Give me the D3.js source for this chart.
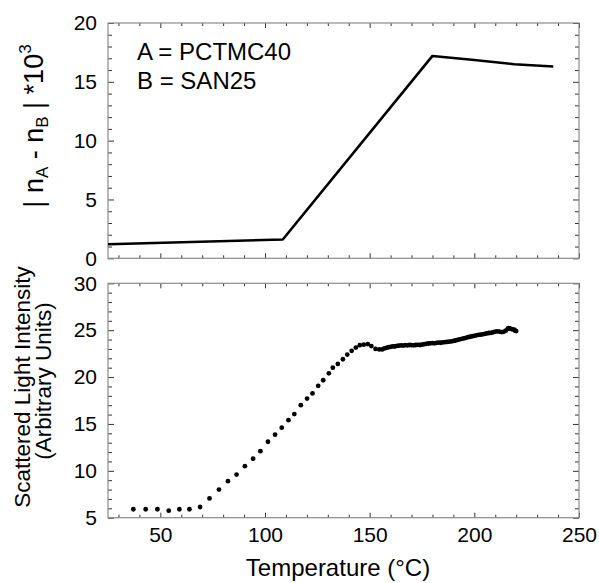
<!DOCTYPE html>
<html>
<head>
<meta charset="utf-8">
<script src="https://cdn.jsdelivr.net/npm/d3@7"></script>
<style>
  body { margin: 0; background: #fff; }
  svg { display: block; font-family: Arial, 'Liberation Sans', sans-serif; }
</style>
</head>
<body>
<svg id="chart" width="599" height="583"></svg>
<script>
/* ------------ Data ----------------*/
// top panel: refractive index difference
const diffTemp = [25, 108.5, 180, 200, 219, 237.7];
const diffValue = [1.2, 1.6, 17.2, 16.85, 16.5, 16.3];

// bottom panel: scattered light
const scatTemp = [
  37.1, 43.0, 48.6, 54.0, 59.1, 63.9, 69.0, 73.5, 78.0, 82.3,
  86.4, 90.4, 94.3, 97.8, 101.4, 104.8, 108.0, 111.2, 114.0, 117.1,
  120.1, 122.7, 125.4, 127.8, 130.5, 132.4, 134.8, 137.2, 139.3, 141.4,
  143.4, 145.3, 147.2, 149.1, 150.8, 152.8, 154.6, 156, 157, 158,
  159, 160, 161, 162, 163, 164, 165, 166, 167, 168,
  169, 170, 171, 172, 173, 174, 175, 176, 177, 178,
  179, 180, 181, 182, 183, 184, 185, 186, 187, 188,
  189, 190, 191, 192, 193, 194, 195, 196, 197, 198,
  199, 200, 201, 202, 203, 204, 205, 206, 207, 208,
  209, 210, 211, 212, 213, 214, 215, 216, 216.5, 217,
  218, 219, 219.5, 220
];
const scatValue = [
  5.9, 5.9, 5.9, 5.75, 5.9, 5.9, 6.14, 7.06, 8.0, 8.9,
  9.6, 10.5, 11.3, 12.1, 13.1, 13.85, 14.6, 15.4, 16.05, 17.0,
  17.7, 18.25, 19.06, 19.66, 20.4, 21.0, 21.4, 21.9, 22.4, 22.8,
  23.15, 23.4, 23.45, 23.52, 23.3, 23.0, 22.95, 22.95, 23.05, 23.12,
  23.18, 23.22, 23.28, 23.26, 23.32, 23.35, 23.38, 23.36, 23.4, 23.38,
  23.42, 23.4, 23.38, 23.42, 23.44, 23.42, 23.46, 23.5, 23.55, 23.58,
  23.6, 23.62, 23.6, 23.65, 23.68, 23.66, 23.7, 23.72, 23.75, 23.78,
  23.8, 23.85, 23.9, 23.96, 24.02, 24.08, 24.12, 24.18, 24.25, 24.3,
  24.35, 24.4, 24.45, 24.5, 24.52, 24.56, 24.6, 24.65, 24.7, 24.72,
  24.78, 24.85, 24.88, 24.85, 24.8, 24.82, 24.95, 25.15, 25.22, 25.18,
  25.1, 25.05, 24.95, 24.9
];

const xTickLabels = [50, 100, 150, 200, 250];
const topYTickLabels = [0, 5, 10, 15, 20];
const botYTickLabels = [5, 10, 15, 20, 25, 30];
const legendLines = ['A = PCTMC40', 'B = SAN25'];

/* ------------ Layout ----------------*/
const svg = d3.select('#chart');
const left = 108, right = 579;
const x = d3.scaleLinear().domain([25, 250]).range([left, right]);
const yTop = d3.scaleLinear().domain([0, 20]).range([258.3, 23]);
const yBot = d3.scaleLinear().domain([5, 30]).range([517.7, 283.3]);

const frameColor = '#8a8a8a';
const tickColor = '#333';

/* ------------ Functions ----------------*/
const styleAxis = (g) => {
  g.select('.domain').remove();
  g.selectAll('.tick line').attr('stroke', tickColor).attr('stroke-width', 1);
  g.selectAll('.tick text')
    .attr('fill', '#000')
    .attr('font-size', '21px')
    .attr('font-family', 'Arial, Liberation Sans, sans-serif');
};

const createTicks = (wrapper, axis, tx, ty) => {
  wrapper.append('g')
    .attr('transform', `translate(${tx},${ty})`)
    .call(axis)
    .call(styleAxis);
};

const createPanel = (wrapper, yScale, yLabels, showXLabels) => {
  const [yMin, yMax] = yScale.domain();
  const yB = yScale(yMin), yT = yScale(yMax);
  const xMinor = d3.range(30, 250, 10).filter(v => !xTickLabels.includes(v));
  const yMinor = d3.range(yMin, yMax, 1).filter(v => !yLabels.includes(v));

  // bottom
  createTicks(wrapper, d3.axisBottom(x).tickValues(xTickLabels).tickSize(-5).tickPadding(9)
    .tickFormat(showXLabels ? d3.format('d') : ''), 0, yB);
  createTicks(wrapper, d3.axisBottom(x).tickValues(xMinor).tickSize(-3).tickFormat(''), 0, yB);
  // top
  createTicks(wrapper, d3.axisTop(x).tickValues(xTickLabels).tickSize(-5).tickFormat(''), 0, yT);
  createTicks(wrapper, d3.axisTop(x).tickValues(xMinor).tickSize(-3).tickFormat(''), 0, yT);
  // left
  createTicks(wrapper, d3.axisLeft(yScale).tickValues(yLabels).tickSize(-6).tickPadding(11)
    .tickFormat(d3.format('d')), left, 0);
  createTicks(wrapper, d3.axisLeft(yScale).tickValues(yMinor).tickSize(-4).tickFormat(''), left, 0);
  // right
  createTicks(wrapper, d3.axisRight(yScale).tickValues(yLabels).tickSize(-6).tickFormat(''), right, 0);
  createTicks(wrapper, d3.axisRight(yScale).tickValues(yMinor).tickSize(-4).tickFormat(''), right, 0);

  wrapper.append('rect')
    .attr('x', left)
    .attr('y', yT)
    .attr('width', right - left)
    .attr('height', yB - yT)
    .attr('fill', 'none')
    .attr('stroke', frameColor)
    .attr('stroke-width', 1.2);
};

/* ------------ Top panel ----------------*/
const topG = svg.append('g').attr('class', 'topPanel');
createPanel(topG, yTop, topYTickLabels, false);

topG.append('path')
  .datum(diffTemp.map((t, i) => [t, diffValue[i]]))
  .attr('fill', 'none')
  .attr('stroke', '#000')
  .attr('stroke-width', 2.6)
  .attr('stroke-linejoin', 'round')
  .attr('d', d3.line().x(d => x(d[0])).y(d => yTop(d[1])));

topG.selectAll('.legendText')
  .data(legendLines)
  .join('text')
  .attr('class', 'legendText')
  .attr('x', 137)
  .attr('y', (d, i) => 60 + i * 29)
  .attr('font-size', '24px')
  .attr('fill', '#000')
  .text(d => d);

const topLabel = topG.append('text')
  .attr('transform', 'translate(43,126) rotate(-90)')
  .attr('text-anchor', 'middle')
  .attr('font-size', '27px')
  .attr('fill', '#000');
topLabel.append('tspan').text('| n');
topLabel.append('tspan').attr('font-size', '17px').attr('dy', 5).text('A');
topLabel.append('tspan').attr('dy', -5).text(' - n');
topLabel.append('tspan').attr('font-size', '17px').attr('dy', 5).text('B');
topLabel.append('tspan').attr('dy', -5).text(' | *10');
topLabel.append('tspan').attr('font-size', '17px').attr('dy', -12).text('3');

/* ------------ Bottom panel ----------------*/
const botG = svg.append('g').attr('class', 'bottomPanel');
createPanel(botG, yBot, botYTickLabels, true);

botG.selectAll('.scatDot')
  .data(scatTemp.map((t, i) => [t, scatValue[i]]))
  .join('circle')
  .attr('class', 'scatDot')
  .attr('cx', d => x(d[0]))
  .attr('cy', d => yBot(d[1]))
  .attr('r', 2.4)
  .attr('fill', '#000');

botG.append('text')
  .attr('transform', 'translate(30,387) rotate(-90)')
  .attr('text-anchor', 'middle')
  .attr('font-size', '22.5px')
  .attr('fill', '#000')
  .text('Scattered Light Intensity');

botG.append('text')
  .attr('transform', 'translate(51,381) rotate(-90)')
  .attr('text-anchor', 'middle')
  .attr('font-size', '22.5px')
  .attr('fill', '#000')
  .text('(Arbitrary Units)');

svg.append('text')
  .attr('x', 338)
  .attr('y', 576)
  .attr('text-anchor', 'middle')
  .attr('font-size', '24px')
  .attr('fill', '#000')
  .text('Temperature (°C)');
</script>
</body>
</html>
